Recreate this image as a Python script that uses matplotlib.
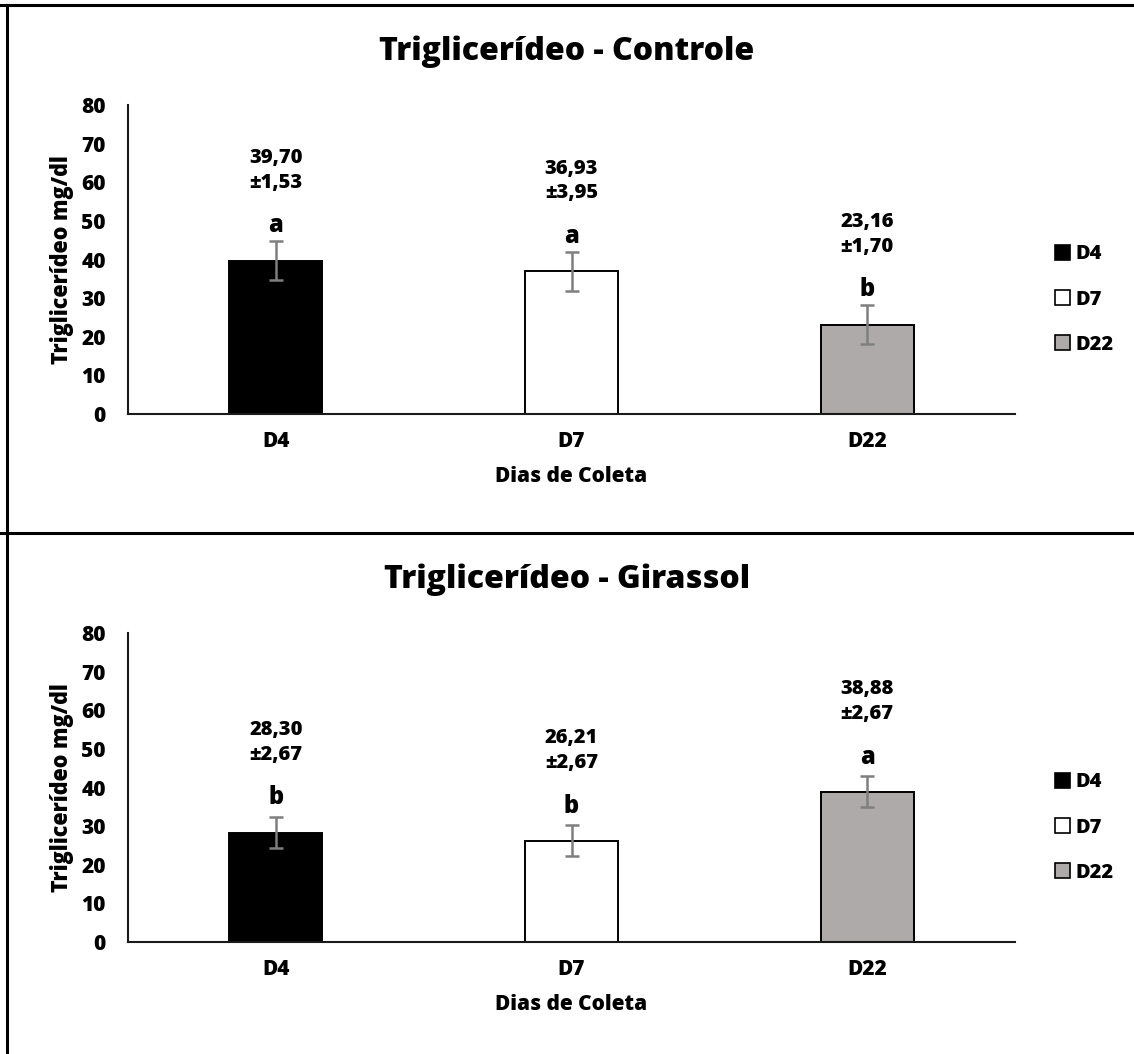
import matplotlib
matplotlib.use("Agg")
import matplotlib.pyplot as plt
from matplotlib.lines import Line2D
from matplotlib.patches import Patch

plt.rcParams['font.family'] = ['Open Sans', 'DejaVu Sans']
plt.rcParams['font.weight'] = 800
W8 = 800

days = ["D4", "D7", "D22"]
colors = ["#000000", "#FFFFFF", "#AEAAAA"]

controle_values = [39.70, 36.93, 23.16]
controle_sem = [1.53, 3.95, 1.70]
controle_err = [5.0, 5.0, 5.0]
controle_letters = ["a", "a", "b"]

girassol_values = [28.30, 26.21, 38.88]
girassol_sem = [2.67, 2.67, 2.67]
girassol_err = [4.0, 4.0, 4.0]
girassol_letters = ["b", "b", "a"]

titles = ["Triglicerídeo - Controle", "Triglicerídeo - Girassol"]
ylabel = "Triglicerídeo mg/dl"
xlabel = "Dias de Coleta"
yticks = [0, 10, 20, 30, 40, 50, 60, 70, 80]

W, H = 1134, 1054
fig = plt.figure(figsize=(W / 100, H / 100), dpi=100)

def fmt(v):
    return f"{v:.2f}".replace(".", ",")

def panel(rect, values, sem, err, letters, title, title_y):
    ax = fig.add_axes(rect)
    x = list(range(len(days)))
    ax.bar(x, values, width=0.315, color=colors, edgecolor="black",
           linewidth=1.4, zorder=2)
    ax.errorbar(x, values, yerr=err, fmt="none", ecolor="#7F7F7F",
                elinewidth=1.8, capsize=5, capthick=1.8, zorder=3)
    for xi, v, s, l in zip(x, values, sem, letters):
        ax.annotate(l, (xi, v), xytext=(0, 25), textcoords="offset points",
                    ha="center", va="center", fontsize=17, fontweight=W8)
        ax.annotate(f"{fmt(v)}\n±{fmt(s)}", (xi, v), xytext=(0, 65),
                    textcoords="offset points", ha="center", va="center",
                    fontsize=14.5, fontweight=W8, linespacing=1.3)
    ax.set_xlim(-0.5, len(days) - 0.5)
    ax.set_ylim(0, 80)
    ax.set_yticks(yticks)
    ax.set_xticks(x)
    ax.set_xticklabels(days)
    ax.tick_params(axis="both", length=0, labelsize=15)
    ax.tick_params(axis="y", pad=16)
    ax.tick_params(axis="x", pad=12)
    for lab in ax.get_xticklabels() + ax.get_yticklabels():
        lab.set_fontweight(W8)
    for sp in ["top", "right"]:
        ax.spines[sp].set_visible(False)
    for sp in ["left", "bottom"]:
        ax.spines[sp].set_linewidth(1.5)
        ax.spines[sp].set_color("#1a1a1a")
    ax.set_ylabel(ylabel, fontsize=15.5, fontweight=W8, labelpad=5)
    ax.set_xlabel(xlabel, fontsize=15, fontweight=W8, labelpad=10)
    handles = [Patch(facecolor=c, edgecolor="black", linewidth=1.2) for c in colors]
    ax.legend(handles, days, loc="center left", bbox_to_anchor=(1.025, 0.37),
              frameon=False, handlelength=0.75, handleheight=0.75,
              handletextpad=0.25, labelspacing=1.25,
              prop={"weight": W8, "size": 14.5})
    fig.text(0.5, title_y, title, ha="center", va="center", fontsize=23,
             fontweight=W8)
    return ax

panel([128 / W, 1 - 414 / H, (1015 - 128) / W, (414 - 105) / H],
      controle_values, controle_sem, controle_err, controle_letters,
      titles[0], 1 - 52 / H)
panel([128 / W, 1 - 942 / H, (1015 - 128) / W, (942 - 633) / H],
      girassol_values, girassol_sem, girassol_err, girassol_letters,
      titles[1], 1 - 580 / H)

# panel frames
lw = 2.2
fig.add_artist(Line2D([0, 1], [1 - 5 / H, 1 - 5 / H], color="black", lw=lw, transform=fig.transFigure))
fig.add_artist(Line2D([7 / W, 7 / W], [0, 1 - 5 / H], color="black", lw=lw, transform=fig.transFigure))
fig.add_artist(Line2D([0, 1], [1 - 533 / H, 1 - 533 / H], color="black", lw=lw, transform=fig.transFigure))

fig.savefig("out.png", dpi=100)
